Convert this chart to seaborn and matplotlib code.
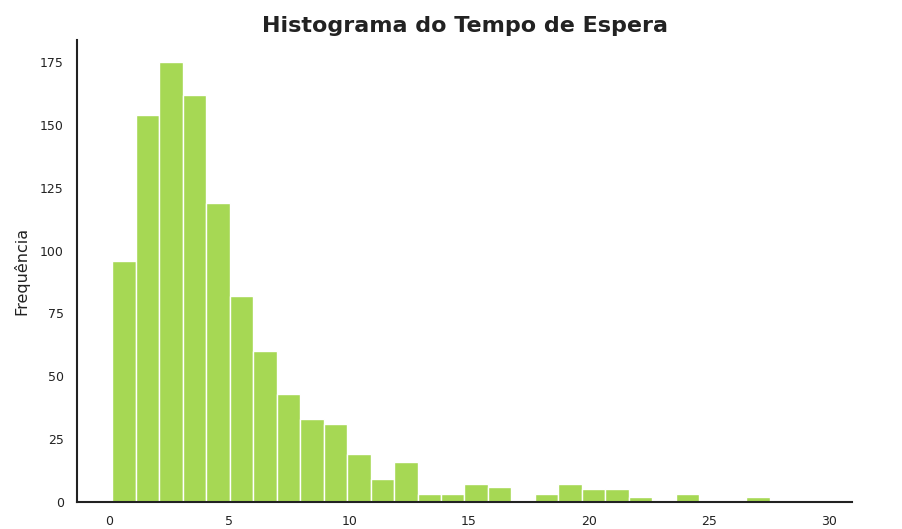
"""
Histograma do Tempo de Espera
"""

import numpy as np
import pandas as pd
import matplotlib
matplotlib.use("Agg")
import matplotlib.pyplot as plt
import seaborn as sns

# bin range: 30 bins from ~0.12 to ~29.5
bin_start = 0.12
bin_end = 29.5
n_bins = 30

# counts per bin
counts = [96, 154, 175, 162, 119, 82, 60, 43, 33, 31,
          19, 9, 16, 3, 3, 7, 6, 0, 3, 7,
          5, 5, 2, 0, 3, 0, 0, 2, 0, 0]

bar_color = "#a6d854"


def main():
    sns.set_theme(style="white")
    plt.rcParams["font.family"] = ["DejaVu Sans"]

    edges = np.linspace(bin_start, bin_end, n_bins + 1)
    centers = (edges[:-1] + edges[1:]) / 2
    data = pd.DataFrame({"tempo": centers, "freq": counts})

    fig = plt.figure(figsize=(9.03, 5.29), dpi=100)
    ax = fig.add_axes([77 / 903, 1 - 502 / 529, 775 / 903, 462 / 529])

    sns.histplot(data=data, x="tempo", weights="freq", bins=n_bins,
                 binrange=(bin_start, bin_end),
                 color=bar_color, alpha=1, edgecolor="white",
                 linewidth=1, ax=ax)

    sns.despine(ax=ax)
    for side in ["left", "bottom"]:
        ax.spines[side].set_color("#222222")
        ax.spines[side].set_linewidth(1.5)

    ax.set_title("Histograma do Tempo de Espera", fontsize=16,
                 fontweight="bold", color="#222222", pad=6)
    ax.set_ylabel("Frequência", fontsize=11.5, color="#222222", labelpad=7.5)
    ax.set_xlabel("")
    ax.tick_params(labelsize=9, colors="#222222")

    fig.savefig("out.png", dpi=100)


if __name__ == "__main__":
    main()
